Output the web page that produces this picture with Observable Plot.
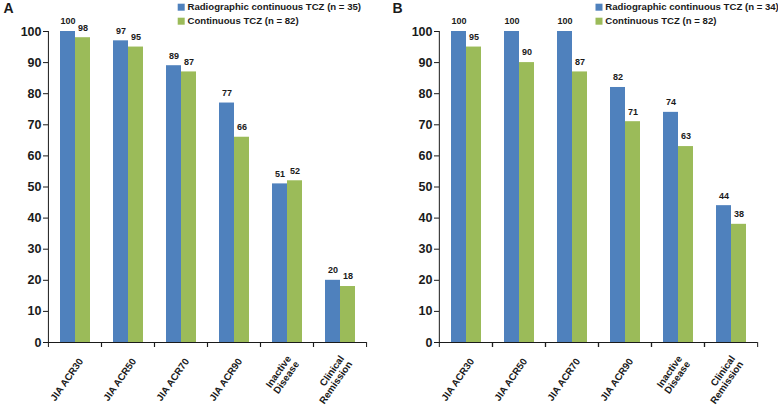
<!DOCTYPE html>
<html>
<head>
<meta charset="utf-8">
<script src="https://cdn.jsdelivr.net/npm/d3@7"></script>
<script src="https://cdn.jsdelivr.net/npm/@observablehq/plot@0.6"></script>
<style>
  html, body { margin: 0; padding: 0; background: #fff; }
  #wrap { display: flex; width: 778px; height: 405px; }
  #wrap > div { width: 389px; height: 405px; }
</style>
</head>
<body>
<div id="wrap"><div id="panelA"></div><div id="panelB"></div></div>
<script>
const categories = ["JIA ACR30", "JIA ACR50", "JIA ACR70", "JIA ACR90", "Inactive Disease", "Clinical Remission"];
const categoryLabels = ["JIA ACR30", "JIA ACR50", "JIA ACR70", "JIA ACR90", "Inactive\nDisease", "Clinical\nRemission"];
const seriesKeys = ["radiographic", "continuous"];
const legendLabelsA = ["Radiographic continuous TCZ (n = 35)", "Continuous TCZ (n = 82)"];
const legendLabelsB = ["Radiographic continuous TCZ (n = 34)", "Continuous TCZ (n = 82)"];
const radiographicA = [100, 97, 89, 77, 51, 20];
const continuousA = [98, 95, 87, 66, 52, 18];
const radiographicB = [100, 100, 100, 82, 74, 44];
const continuousB = [95, 90, 87, 71, 63, 38];
const yTicks = [0, 10, 20, 30, 40, 50, 60, 70, 80, 90, 100];
const colors = ["#4F81BD", "#9BBB59"];

const FONT = "'Liberation Sans', Arial, Helvetica, sans-serif";

function panel({letter, legend, radiographic, continuous, width, marginLeft, marginRight, legendX}) {
  const height = 405, marginTop = 31, marginBottom = 63;
  const frameW = width - marginLeft - marginRight;
  const step = frameW / categories.length;
  const rows = categories.flatMap((c, i) => [
    {cat: c, series: seriesKeys[0], value: radiographic[i]},
    {cat: c, series: seriesKeys[1], value: continuous[i]}
  ]);
  const legendRows = [6.7, 20.7];
  return Plot.plot({
    width, height, marginLeft, marginRight, marginTop, marginBottom,
    style: {fontFamily: FONT, background: "#fff", color: "#1a1a1a", overflow: "visible"},
    fx: {domain: categories, padding: 0, axis: null, label: null},
    x: {domain: seriesKeys, paddingInner: 0, paddingOuter: 0.71, axis: null},
    y: {domain: [0, 100], axis: null},
    color: {domain: seriesKeys, range: colors},
    marks: [
      Plot.barY(rows, {fx: "cat", x: "series", y: "value", fill: "series"}),
      Plot.text(rows, {fx: "cat", x: "series", y: "value", text: d => String(d.value),
        dy: -10, fontSize: 9, fontWeight: "bold", fill: "#1a1a1a", lineAnchor: "middle"}),
      Plot.ruleY([0], {stroke: "#1a1a1a"}),
      Plot.ruleX([categories[0]], {fx: d => d, x: null, y1: 0, y2: 100, dx: -step / 2, stroke: "#1a1a1a"}),
      Plot.axisY(yTicks, {tickSize: 5, tickPadding: 2, fontSize: 12.5, fontWeight: "bold", label: null}),
      Plot.axisFx({anchor: "bottom", tickSize: 5, text: null, label: null, dx: -step / 2}),
      Plot.axisFx([categories[categories.length - 1]], {anchor: "bottom", tickSize: 5, text: null, label: null, dx: step / 2}),
      Plot.text(categories, {fx: d => d, text: (d, i) => categoryLabels[i], frameAnchor: "bottom",
        dx: 6, dy: 17, rotate: -55, textAnchor: "end", lineAnchor: "middle",
        fontSize: 9.8, fontWeight: "bold", fill: "#1a1a1a"}),
      Plot.text([letter], {facet: "super", frameAnchor: "top-left", dx: 2 - marginLeft, dy: 8.5 - marginTop,
        textAnchor: "start", lineAnchor: "middle", fontSize: 14, fontWeight: "bold", fill: "#1a1a1a"}),
      ...legend.flatMap((label, i) => [
        Plot.dot([label], {facet: "super", frameAnchor: "top-left", dx: legendX - marginLeft, dy: legendRows[i] - marginTop,
          symbol: "square", r: 3.95, fill: colors[i], stroke: null}),
        Plot.text([label], {facet: "super", frameAnchor: "top-left", dx: legendX + 6.3 - marginLeft, dy: legendRows[i] - marginTop,
          text: d => d, textAnchor: "start", lineAnchor: "middle", fontSize: 9.6, fontWeight: "bold", fill: "#1a1a1a"})
      ])
    ]
  });
}

document.getElementById("panelA").append(panel({
  letter: "A", legend: legendLabelsA, radiographic: radiographicA, continuous: continuousA,
  width: 389, marginLeft: 47, marginRight: 23, legendX: 179.7
}));
document.getElementById("panelB").append(panel({
  letter: "B", legend: legendLabelsB, radiographic: radiographicB, continuous: continuousB,
  width: 389, marginLeft: 49, marginRight: 20, legendX: 597.5 - 389
}));
</script>
</body>
</html>
